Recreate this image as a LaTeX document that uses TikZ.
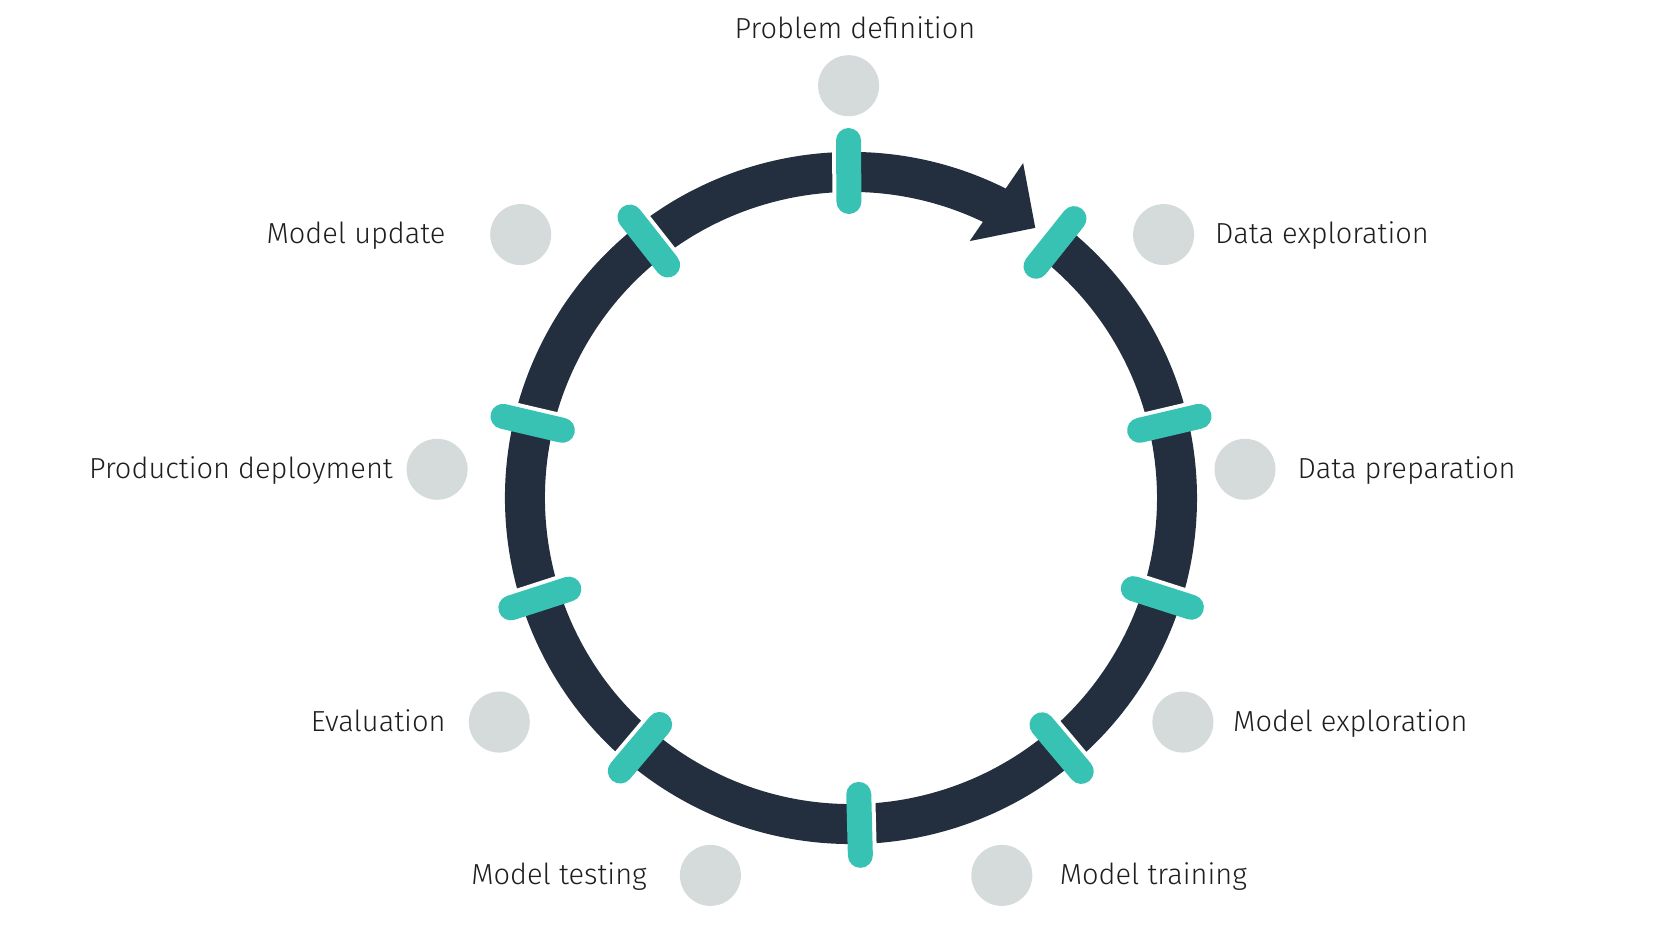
\documentclass[tikz,border=0pt]{standalone}
\usepackage{fontspec}
\setmainfont{Fira Sans Light}
\usetikzlibrary{calc}
\definecolor{ink}{HTML}{232F3E}
\definecolor{tealc}{HTML}{37C2B4}
\definecolor{dotc}{HTML}{D5DBDB}
\definecolor{txtc}{HTML}{1E1E1E}
\begin{document}
\begin{tikzpicture}[x=1pt,y=1pt,
  dotnode/.style={circle, fill=dotc, minimum size=61pt, inner sep=0pt},
  lbl/.style={text=txtc, inner sep=0pt, font=\fontsize{29}{34}\selectfont},
  tickw/.style={white, line width=25pt, line cap=round},
  tickc/.style={tealc, line width=25pt, line cap=round}]
\useasboundingbox (0,0) rectangle (1680,945);
\coordinate (C) at (851,447);
% ring
\draw[ink, line width=40pt] ($(C)+(62:326)$) arc[start angle=62, end angle=411.4, radius=326];
% arrowhead
\fill[ink] ($(C)+(55.7:327)$) -- ($(C)+(62.8:376.6)$) -- ($(C)+(65.2:283)$) -- cycle;
% ticks (angle / side of the white gap)
\foreach \a/\s in {90.4/90,51.4/90,13.2/90,-17.8/90,-49.9/90,-88.5/90,-130.2/-90,-162.1/-90,166.8/-90,128.2/-90}{
  \draw[tickw] ($(C)+(\a:296.5)+(\a+\s:4)$) -- ($(C)+(\a:357.5)+(\a+\s:4)$);
  \draw[tickc] ($(C)+(\a:296.5)$) -- ($(C)+(\a:357.5)$);
}
% dots
\node[dotnode] (dpd) at (848.6,859.3) {};
\node[dotnode] (dde) at (1163.6,710.4) {};
\node[dotnode] (ddp) at (1245,475.7) {};
\node[dotnode] (dme) at (1182.9,222.9) {};
\node[dotnode] (dmt) at (1001.8,69.6) {};
\node[dotnode] (dmte) at (710.4,69.6) {};
\node[dotnode] (dev) at (499.3,222.9) {};
\node[dotnode] (dprod) at (437.1,475.7) {};
\node[dotnode] (dmu) at (520.7,710.4) {};
% labels
\node[lbl, anchor=base] (lpd) at (855,906.7) {Problem definition};
\node[lbl, anchor=base west] (lde) at (1215,701) {Data exploration};
\node[lbl, anchor=base west] (ldp) at (1297.5,466.5) {Data preparation};
\node[lbl, anchor=base west] (lme) at (1233,213.5) {Model exploration};
\node[lbl, anchor=base west] (lmt) at (1059.6,60.5) {Model training};
\node[lbl, anchor=base east] (lmte) at (647,60.5) {Model testing};
\node[lbl, anchor=base east] (lev) at (445.7,213.5) {Evaluation};
\node[lbl, anchor=base east] (lprod) at (393,466.5) {Production deployment};
\node[lbl, anchor=base east] (lmu) at (445.7,701) {Model update};
\end{tikzpicture}
\end{document}
